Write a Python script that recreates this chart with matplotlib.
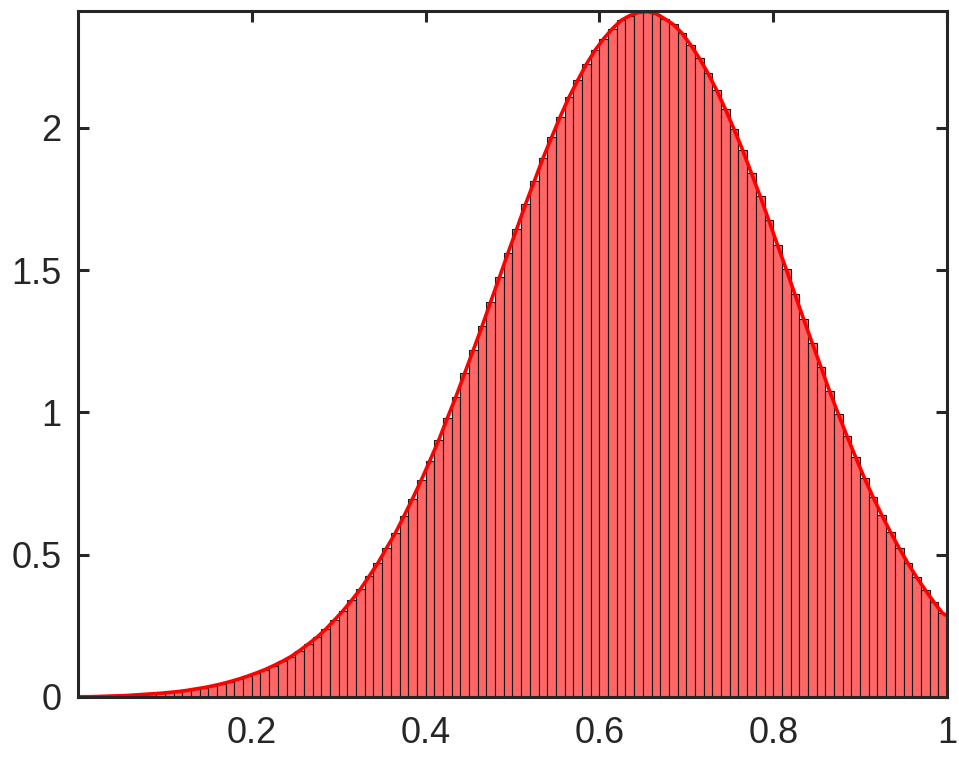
import numpy as np
import matplotlib.pyplot as plt

plt.rcParams['font.family'] = ['Liberation Sans', 'DejaVu Sans']

# histogram: 100 equal bins on [0, 1], normalised heights
bin_edges_lo = 0.0
bin_edges_hi = 1.0
heights = [
    0.001, 0.001, 0.002, 0.003, 0.004, 0.005, 0.007, 0.009, 0.011, 0.013,
    0.016, 0.019, 0.023, 0.028, 0.033, 0.039, 0.046, 0.054, 0.063, 0.073,
    0.084, 0.096, 0.110, 0.125, 0.142, 0.163, 0.186, 0.210, 0.238, 0.270,
    0.303, 0.340, 0.379, 0.424, 0.470, 0.523, 0.575, 0.635, 0.697, 0.762,
    0.831, 0.902, 0.980, 1.056, 1.138, 1.220, 1.303, 1.390, 1.475, 1.562,
    1.646, 1.732, 1.812, 1.893, 1.967, 2.040, 2.108, 2.167, 2.224, 2.273,
    2.314, 2.349, 2.378, 2.395, 2.406, 2.409, 2.402, 2.384, 2.364, 2.333,
    2.292, 2.245, 2.192, 2.132, 2.066, 1.995, 1.921, 1.840, 1.760, 1.675,
    1.588, 1.503, 1.415, 1.328, 1.243, 1.159, 1.074, 0.994, 0.916, 0.842,
    0.769, 0.702, 0.639, 0.579, 0.523, 0.470, 0.421, 0.376, 0.333, 0.294,
]
# fitted density curve: values at the two ends of the range
curve_start = 0.0
curve_end = 0.286

xticks = [0.2, 0.4, 0.6, 0.8, 1.0]
xtick_labels = ['0.2', '0.4', '0.6', '0.8', '1']
yticks = [0, 0.5, 1, 1.5, 2]
ytick_labels = ['0', '0.5', '1', '1.5', '2']

edges = np.linspace(bin_edges_lo, bin_edges_hi, len(heights) + 1)
centers = (edges[:-1] + edges[1:]) / 2
width = edges[1] - edges[0]

fig = plt.figure(figsize=(9.59, 7.59), dpi=100)
ax = fig.add_axes([0.0813, 0.0817, 0.9062, 0.9038])

ax.bar(centers, heights, width=width, color='#ff6666', edgecolor='#1a1a1a',
       linewidth=0.8, zorder=2)

curve_x = np.concatenate([[bin_edges_lo], centers, [bin_edges_hi]])
curve_y = np.concatenate([[curve_start], heights, [curve_end]])
ax.plot(curve_x, curve_y, color='#ff0000', linewidth=2.6, zorder=3,
        solid_capstyle='butt', solid_joinstyle='round')

ax.set_xlim(bin_edges_lo, bin_edges_hi)
ax.set_ylim(0, 2.411)
ax.set_xticks(xticks)
ax.set_xticklabels(xtick_labels)
ax.set_yticks(yticks)
ax.set_yticklabels(ytick_labels)

for s in ax.spines.values():
    s.set_color('#262626')
    s.set_linewidth(2.2)
    s.set_zorder(5)
ax.tick_params(direction='in', length=8, width=2.2, colors='#262626',
               top=True, right=True, labelsize=26, pad=12)
ax.tick_params(axis='x', pad=14)

plt.savefig('out.png', dpi=100)
plt.close()
